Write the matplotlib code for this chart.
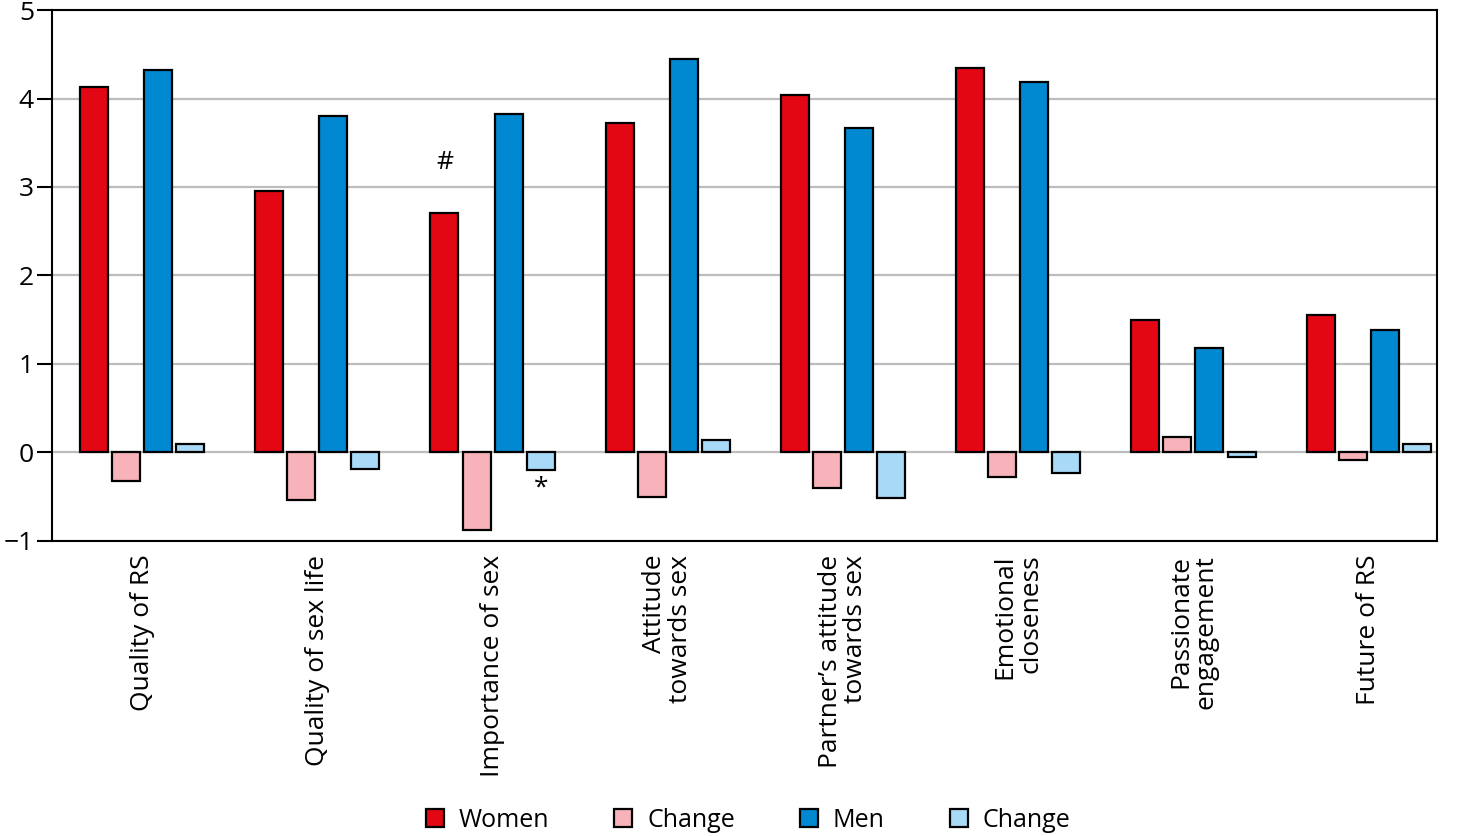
import numpy as np
import matplotlib
matplotlib.use('Agg')
import matplotlib.pyplot as plt

# Categories and values
categories = ['Quality of RS', 'Quality of sex life', 'Importance of sex',
              'Attitude\ntowards sex', 'Partner\u2019s attitude\ntowards sex',
              'Emotional\ncloseness', 'Passionate\nengagement', 'Future of RS']
women = [4.13, 2.95, 2.71, 3.72, 4.04, 4.35, 1.50, 1.55]
women_change = [-0.32, -0.54, -0.88, -0.50, -0.40, -0.28, 0.17, -0.09]
men = [4.32, 3.80, 3.82, 4.45, 3.67, 4.19, 1.18, 1.38]
men_change = [0.10, -0.19, -0.20, 0.14, -0.51, -0.23, -0.05, 0.10]

series = [women, women_change, men, men_change]
labels = ['Women', 'Change', 'Men', 'Change']
colors = ['#E30613', '#F7B3B9', '#0088D1', '#A8D9F6']

plt.rcParams['font.family'] = ['Open Sans', 'DejaVu Sans']
plt.rcParams['axes.unicode_minus'] = True

fig = plt.figure(figsize=(14.58, 8.36), dpi=100)
ax = fig.add_axes([0.0357, 0.353, 0.9499, 0.635])

x = np.arange(len(categories))
pitch = 0.183
width = 0.16
for i, (vals, lab, col) in enumerate(zip(series, labels, colors)):
    ax.bar(x + (i - 1.5) * pitch, vals, width, color=col, edgecolor='black',
           linewidth=1.6, label=lab, zorder=3)

# Significance marks
ax.text(x[2] - 1.5 * pitch, 3.28, '#', ha='center', va='center', fontsize=19)
ax.text(x[2] + 1.5 * pitch, -0.40, '*', ha='center', va='center', fontsize=19)

ax.set_ylim(-1, 5)
ax.set_xlim(-0.514, 7.39)
ax.set_yticks(range(-1, 6))
ax.yaxis.grid(True, color='#BDBDBD', linewidth=1.6, zorder=0)
ax.set_axisbelow(True)
ax.tick_params(axis='y', length=11, width=1.5, labelsize=19, pad=2)
ax.tick_params(axis='x', length=0, labelsize=19, pad=10)
ax.set_xticks(x)
ax.set_xticklabels(categories, rotation=90, ha='center', va='top',
                   multialignment='right', linespacing=1.05)
for s in ax.spines.values():
    s.set_linewidth(1.5)

fig.legend(*ax.get_legend_handles_labels(), loc='center',
           bbox_to_anchor=(0.513, 0.019), ncol=4, frameon=False,
           handlelength=0.72, handleheight=0.72, columnspacing=2.6,
           handletextpad=0.6, fontsize=18)

fig.savefig('out.png', dpi=100)
